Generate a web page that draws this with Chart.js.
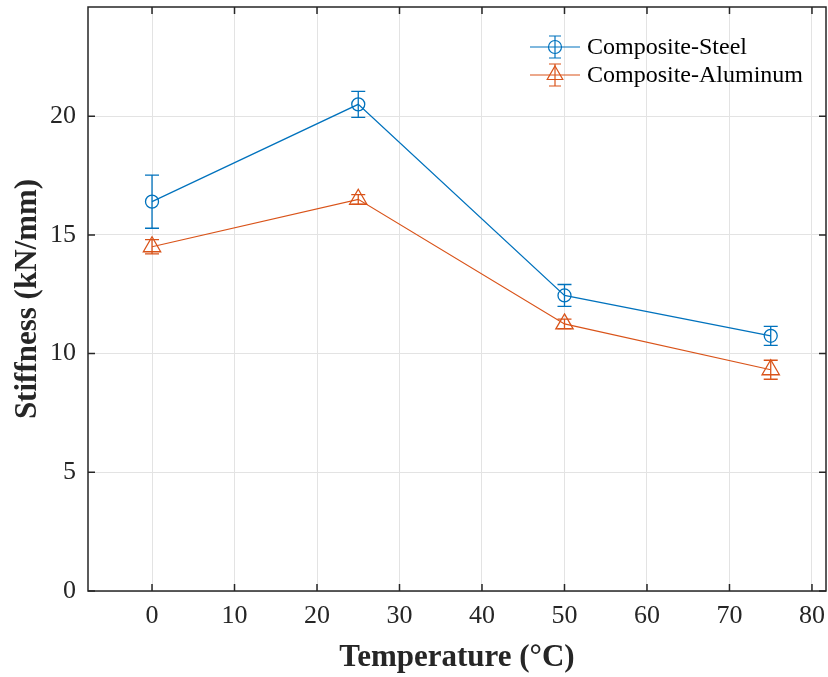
<!DOCTYPE html>
<html>
<head>
<meta charset="utf-8">
<script src="https://cdn.jsdelivr.net/npm/chart.js@4.4.1/dist/chart.umd.min.js"></script>
<style>
  html, body { margin: 0; padding: 0; background: #ffffff; }
  #wrap { width: 828px; height: 677px; }
</style>
</head>
<body>
<div id="wrap"><canvas id="c" width="828" height="677"></canvas></div>
<script>
// ---- data ----
const temperatures = [0, 25, 50, 75];
const steelStiffness = [16.4, 20.5, 12.45, 10.75];
const steelError = [1.12, 0.55, 0.46, 0.4];
const aluminumStiffness = [14.5, 16.5, 11.25, 9.32];
const aluminumError = [0.3, 0.2, 0.2, 0.4];
const seriesNames = ['Composite-Steel', 'Composite-Aluminum'];
const xTicks = [0, 10, 20, 30, 40, 50, 60, 70, 80];
const yTicks = [0, 5, 10, 15, 20];

const BLUE = '#0072BD';
const ORANGE = '#D95319';
const FONT = "'Liberation Serif', 'Times New Roman', serif";

function toPoints(xs, ys, es) {
  return xs.map((x, i) => ({ x: x, y: ys[i], err: es[i] }));
}

const errorBarPlugin = {
  id: 'errorBars',
  afterDatasetsDraw(chart) {
    const ctx = chart.ctx;
    const ys = chart.scales.y;
    chart.data.datasets.forEach((ds, di) => {
      const meta = chart.getDatasetMeta(di);
      ctx.save();
      ctx.strokeStyle = ds.borderColor;
      ctx.lineWidth = 1.3;
      meta.data.forEach((pt, i) => {
        const d = ds.data[i];
        const top = ys.getPixelForValue(d.y + d.err);
        const bot = ys.getPixelForValue(d.y - d.err);
        const x = pt.x;
        const cap = 7;
        ctx.beginPath();
        ctx.moveTo(x, top); ctx.lineTo(x, bot);
        ctx.moveTo(x - cap, top); ctx.lineTo(x + cap, top);
        ctx.moveTo(x - cap, bot); ctx.lineTo(x + cap, bot);
        ctx.stroke();
      });
      ctx.restore();
    });
  }
};

const boxPlugin = {
  id: 'boxTicks',
  afterDraw(chart) {
    const ctx = chart.ctx;
    const a = chart.chartArea;
    const xs = chart.scales.x, ys = chart.scales.y;
    ctx.save();
    ctx.strokeStyle = '#262626';
    ctx.lineWidth = 1.5;
    ctx.strokeRect(a.left, a.top, a.right - a.left, a.bottom - a.top);
    const tl = 7;
    ctx.beginPath();
    xTicks.forEach(v => {
      const px = xs.getPixelForValue(v);
      ctx.moveTo(px, a.bottom); ctx.lineTo(px, a.bottom - tl);
      ctx.moveTo(px, a.top); ctx.lineTo(px, a.top + tl);
    });
    yTicks.forEach(v => {
      const py = ys.getPixelForValue(v);
      ctx.moveTo(a.left, py); ctx.lineTo(a.left + tl, py);
      ctx.moveTo(a.right, py); ctx.lineTo(a.right - tl, py);
    });
    ctx.stroke();

    // legend
    const items = [
      { name: seriesNames[0], color: BLUE, style: 'circle' },
      { name: seriesNames[1], color: ORANGE, style: 'triangle' }
    ];
    const lx0 = 530, lx1 = 580, mx = 555;
    const rowY = [47, 75];
    ctx.font = "24px " + FONT;
    ctx.textBaseline = 'middle';
    ctx.textAlign = 'left';
    items.forEach((it, i) => {
      const y = rowY[i];
      ctx.strokeStyle = it.color;
      ctx.lineWidth = 1.2;
      ctx.beginPath();
      ctx.moveTo(lx0, y); ctx.lineTo(lx1, y);
      ctx.moveTo(mx, y - 11); ctx.lineTo(mx, y + 11);
      ctx.moveTo(mx - 6, y - 11); ctx.lineTo(mx + 6, y - 11);
      ctx.moveTo(mx - 6, y + 11); ctx.lineTo(mx + 6, y + 11);
      ctx.stroke();
      ctx.beginPath();
      if (it.style === 'circle') {
        ctx.arc(mx, y, 6.5, 0, Math.PI * 2);
      } else {
        const r = 9;
        ctx.moveTo(mx, y - r);
        ctx.lineTo(mx + Math.sin(2 * Math.PI / 3) * r, y + r / 2);
        ctx.lineTo(mx - Math.sin(2 * Math.PI / 3) * r, y + r / 2);
        ctx.closePath();
      }
      ctx.stroke();
      ctx.fillStyle = '#000000';
      ctx.fillText(it.name, 587, y + 1);
    });
    ctx.restore();
  }
};

function zeroPad(scale) {
  scale.paddingTop = 0; scale.paddingBottom = 0;
  scale.paddingLeft = 0; scale.paddingRight = 0;
}

new Chart(document.getElementById('c'), {
  type: 'scatter',
  data: {
    datasets: [
      {
        label: seriesNames[0],
        data: toPoints(temperatures, steelStiffness, steelError),
        showLine: true,
        borderColor: BLUE,
        backgroundColor: 'rgba(0,0,0,0)',
        borderWidth: 1.2,
        pointStyle: 'circle',
        pointRadius: 6.5,
        pointBorderWidth: 1.3,
        pointBorderColor: BLUE,
        pointBackgroundColor: 'rgba(0,0,0,0)'
      },
      {
        label: seriesNames[1],
        data: toPoints(temperatures, aluminumStiffness, aluminumError),
        showLine: true,
        borderColor: ORANGE,
        backgroundColor: 'rgba(0,0,0,0)',
        borderWidth: 1.2,
        pointStyle: 'triangle',
        pointRadius: 10,
        pointBorderWidth: 1.3,
        pointBorderColor: ORANGE,
        pointBackgroundColor: 'rgba(0,0,0,0)'
      }
    ]
  },
  options: {
    responsive: false,
    animation: false,
    layout: { autoPadding: false, padding: { top: 7, right: 2, left: 0, bottom: 0 } },
    plugins: {
      legend: { display: false },
      tooltip: { enabled: false }
    },
    scales: {
      x: {
        type: 'linear',
        min: -7.76,
        max: 81.7,
        afterBuildTicks(scale) { scale.ticks = xTicks.map(v => ({ value: v })); },
        afterFit(scale) { scale.height = 86; zeroPad(scale); },
        grid: { color: '#e3e3e3', lineWidth: 1, drawTicks: false },
        border: { display: false },
        ticks: {
          color: '#262626',
          padding: 10,
          font: { family: FONT, size: 26 },
          callback: v => String(v)
        },
        title: {
          display: true,
          text: 'Temperature (°C)',
          color: '#262626',
          font: { family: FONT, size: 31, weight: 'bold' },
          padding: { top: 0, bottom: 0 }
        }
      },
      y: {
        type: 'linear',
        min: 0,
        max: 24.6,
        afterBuildTicks(scale) { scale.ticks = yTicks.map(v => ({ value: v })); },
        afterFit(scale) { scale.width = 88; zeroPad(scale); },
        grid: { color: '#e3e3e3', lineWidth: 1, drawTicks: false },
        border: { display: false },
        ticks: {
          color: '#262626',
          padding: 12,
          font: { family: FONT, size: 26 },
          callback: v => String(v)
        },
        title: {
          display: true,
          text: 'Stiffness (kN/mm)',
          color: '#262626',
          font: { family: FONT, size: 31, weight: 'bold' },
          padding: { top: 9, bottom: 0 }
        }
      }
    }
  },
  plugins: [errorBarPlugin, boxPlugin]
});
</script>
</body>
</html>
